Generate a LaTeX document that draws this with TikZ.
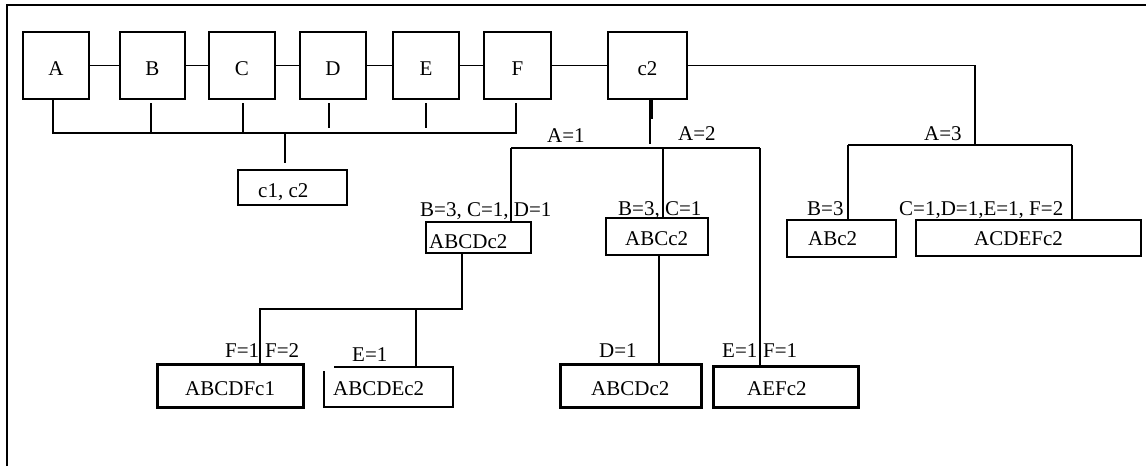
\documentclass[tikz,border=0pt]{standalone}
\usepackage{fontspec}
\setmainfont{Liberation Serif}
\begin{document}
\begin{tikzpicture}[x=1pt,y=-1pt,
  every node/.style={font=\fontsize{21}{25}\selectfont},
  ln/.style={line width=1.4pt},
  box/.style={draw,line width=1.5pt,inner sep=0,outer sep=0},
  thinbox/.style={draw,line width=1.1pt,inner sep=0,outer sep=0},
  thickbox/.style={draw,line width=3pt,inner sep=0,outer sep=0},
  hollow/.style={inner sep=0,outer sep=0},
  txt/.style={anchor=base west,inner sep=0},
  ctxt/.style={anchor=base,inner sep=0}]
\useasboundingbox (0,0) rectangle (1146,466);
% frame
\draw[line width=1.7pt] (7,466) -- (7,5) -- (1146,5);
% top row boxes
\node[box,minimum width=66,minimum height=67] (A) at (56,65.5) {};
\node[box,minimum width=65,minimum height=67] (B) at (152.5,65.5) {};
\node[box,minimum width=66,minimum height=67] (C) at (242,65.5) {};
\node[box,minimum width=66,minimum height=67] (D) at (333,65.5) {};
\node[box,minimum width=66,minimum height=67] (E) at (426,65.5) {};
\node[box,minimum width=67,minimum height=67] (F) at (517.5,65.5) {};
\node[box,minimum width=79,minimum height=67] (c2) at (647.5,65.5) {};
\node[ctxt] (tA) at (56,75) {A};
\node[ctxt] (tB) at (152.5,75) {B};
\node[ctxt] (tC) at (242,75) {C};
\node[ctxt] (tD) at (333,75) {D};
\node[ctxt] (tE) at (426,75) {E};
\node[ctxt] (tF) at (517.5,75) {F};
\node[ctxt] (tc2) at (647.5,75) {c2};
% other boxes
\node[thinbox,minimum width=109,minimum height=35] (c1c2) at (292.5,187.5) {};
\node[thinbox,minimum width=105,minimum height=31] (abcdc2a) at (478.5,237.5) {};
\node[thinbox,minimum width=102,minimum height=37] (abcc2) at (657,236.5) {};
\node[box,minimum width=109,minimum height=37] (abc2) at (841.5,238.5) {};
\node[box,minimum width=225,minimum height=36] (acdefc2) at (1028.5,238) {};
\node[thickbox,minimum width=146,minimum height=43] (abcdfc1) at (230,385.5) {};
\node[hollow,minimum width=129,minimum height=40] (abcdec2) at (388.5,387) {};
\node[thickbox,minimum width=141,minimum height=43] (abcdc2b) at (630.5,385.5) {};
\node[thickbox,minimum width=145,minimum height=41] (aefc2) at (785.5,386.5) {};
\draw[line width=2.5pt] ([xshift=10pt]abcdec2.north west) -- (abcdec2.north east) -- (abcdec2.south east) -- (abcdec2.south west) -- ([yshift=-4pt]abcdec2.north west);
% box texts
\node[txt] (tc1c2) at (258,197) {c1, c2};
\node[txt] (tabcdc2a) at (429,248) {ABCDc2};
\node[txt] (tabcc2) at (625,245) {ABCc2};
\node[txt] (tabc2) at (808,245) {ABc2};
\node[txt] (tacdefc2) at (974,245) {ACDEFc2};
\node[txt] (tabcdfc1) at (185,395) {ABCDFc1};
\node[txt] (tabcdec2) at (333,395) {ABCDEc2};
\node[txt] (tabcdc2b) at (591,395) {ABCDc2};
\node[txt] (taefc2) at (747,395) {AEFc2};
% chain connectors
\draw[ln] (A.east) -- (B.west);
\draw[ln] (B.east) -- (C.west);
\draw[ln] (C.east) -- (D.west);
\draw[ln] (D.east) -- (E.west);
\draw[ln] (E.east) -- (F.west);
\draw[ln] (F.east) -- (c2.west);
% bus to c1,c2
\coordinate (busL) at (53,133);
\coordinate (busR) at (516,133);
\coordinate (drop) at (285,133);
\draw[ln] (busL |- A.south) -- (busL) -- (busR) -- ++(0,-30);
\draw[ln] ([shift={(-1.5pt,-4pt)}]B.south) -- ++(0,30);
\draw[ln] ([shift={(1pt,-4pt)}]C.south) -- ++(0,30);
\draw[ln] ([shift={(-4pt,-4pt)}]D.south) -- ++(0,25);
\draw[ln] ([shift={(0pt,-4pt)}]E.south) -- ++(0,25);
\draw[ln] (drop) -- ++(0,30);
% right branch A=3
\coordinate (r1) at (975,145);
\coordinate (r2) at (848,145);
\coordinate (r3) at (1072,145);
\draw[ln] (c2.east) -| (r1);
\draw[ln] (r2) -- (r3);
\draw[ln] (r2) -- (r2 |- abc2.north);
\draw[ln] (r3) -- (r3 |- acdefc2.north);
% middle branches
\coordinate (m0) at (650,144);
\coordinate (m1) at (511,148);
\coordinate (m2) at (663,148);
\coordinate (m3) at (760,148);
\draw[ln] (c2.south -| m0) -- (m0);
\draw[line width=1.6pt] ([xshift=2pt]c2.south -| m0) -- ++(0,20);
\draw[ln] (m1) -- (m3);
\draw[ln] (m1) -- (m1 |- abcdc2a.north);
\draw[ln] (m2) -- (m2 |- abcc2.north);
\draw[ln] (m3) -- (m3 |- aefc2.north);
% lower-left branch
\coordinate (l0) at (462,309);
\coordinate (l1) at (260,309);
\coordinate (l2) at (416,309);
\draw[ln] (abcdc2a.south -| l0) -- (l0) -- (l1) -- (l1 |- abcdfc1.north);
\draw[ln] (l2) -- (l2 |- abcdec2.north);
\coordinate (d0) at (659,300);
\draw[ln] (abcc2.south -| d0) -- (abcdc2b.north -| d0);
% labels
\node[txt] (lA1) at (547,142) {A=1};
\node[txt] (lA2) at (678,140) {A=2};
\node[txt] (lA3) at (924,140) {A=3};
\node[txt] (lbcd) at (420,216) {B=3, C=1, D=1};
\node[txt] (lbc) at (618,215) {B=3, C=1};
\node[txt] (lb3) at (807,215) {B=3};
\node[txt] (lcdef) at (899,215) {C=1,D=1,E=1, F=2};
\node[txt] (lf1) at (225,357) {F=1};
\node[txt] (lf2) at (265,357) {F=2};
\node[txt] (le1a) at (352,361) {E=1};
\node[txt] (ld1) at (599,357) {D=1};
\node[txt] (le1b) at (722,357) {E=1};
\node[txt] (lf1b) at (763,357) {F=1};
\end{tikzpicture}
\end{document}
